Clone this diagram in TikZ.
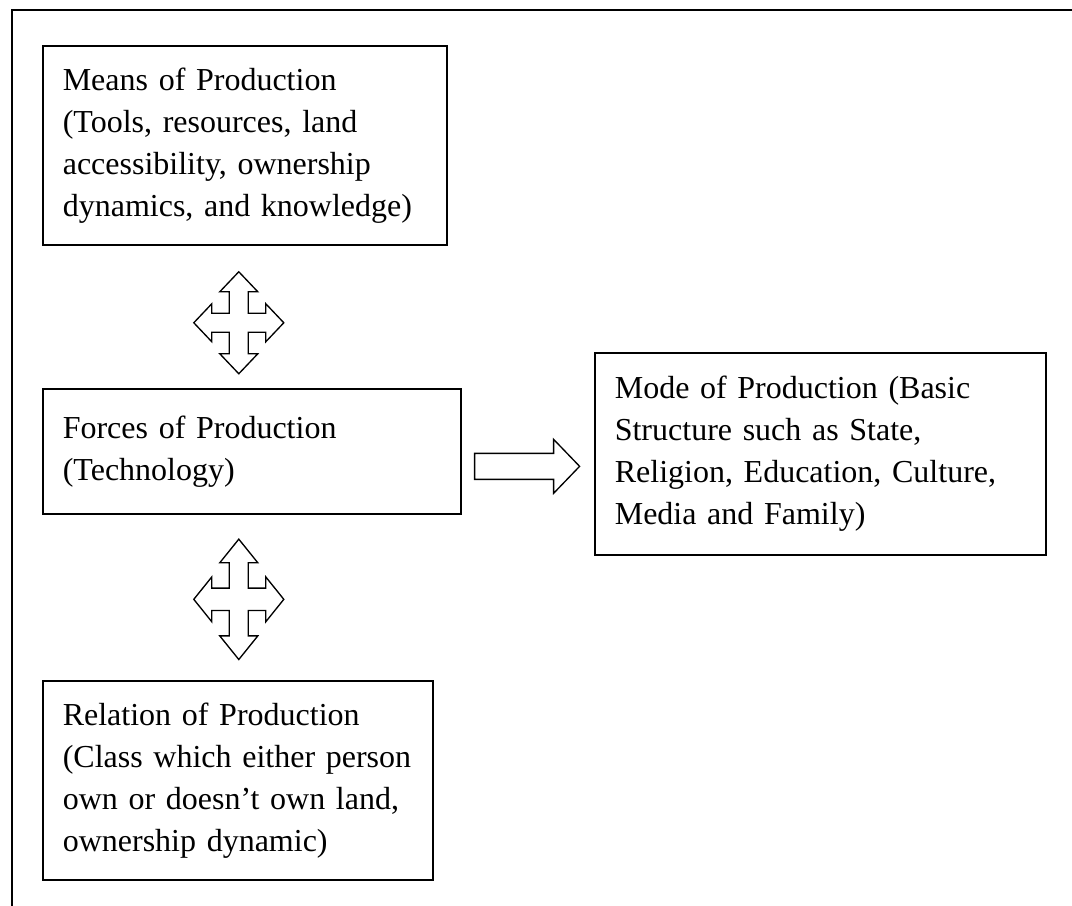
\documentclass[tikz,border=0pt]{standalone}
\usepackage{fontspec}
\setmainfont{Liberation Serif}
\usetikzlibrary{positioning, calc}

% four-way block arrow, drawn round a centre, stretched in y
\newcommand{\QuadArrow}[2]{%
  \draw[blockarrow, shift={(#1)}, yscale=#2]
    (0,-51) -- (19,-31) -- (9.5,-31) -- (9.5,-9.5) -- (27,-9.5) -- (27,-19) -- (45,0)
    -- (27,19) -- (27,9.5) -- (9.5,9.5) -- (9.5,31) -- (19,31) -- (0,51)
    -- (-19,31) -- (-9.5,31) -- (-9.5,9.5) -- (-27,9.5) -- (-27,19) -- (-45,0)
    -- (-27,-19) -- (-27,-9.5) -- (-9.5,-9.5) -- (-9.5,-31) -- (-19,-31) -- cycle;}

\begin{document}
\begin{tikzpicture}[x=0.375pt, y=-0.375pt,
        box/.style={draw, line width=0.6pt, align=left, anchor=north west, font=\fontsize{12}{15.75}\selectfont, inner xsep=7.5pt, inner ysep=0pt},
        blockarrow/.style={draw, line width=0.5pt, fill=white, line join=miter}
    ]
    \useasboundingbox (0,0) rectangle (1072,906);

    % Frame (only left and top edges show)
    \draw[line width=0.6pt] (12,906) -- (12,10) -- (1072,10);

    % Left column
    \node[box, text width=136.5pt, minimum height=74.6pt] at (42,45) (means) {Means of Production\\(Tools, resources, land\\accessibility, ownership\\dynamics, and knowledge)};

    \node[box, text width=141.75pt, minimum height=46.9pt] at (42,388) (forces) {Forces of Production\\(Technology)};

    \node[box, text width=131.25pt, minimum height=74.6pt] at (42,680) (relation) {Relation of Production\\(Class which either person\\own or doesn’t own land,\\ownership dynamic)};

    % Right box
    \node[box, text width=154.1pt, minimum height=75.75pt] at (594,352) (mode) {Mode of Production (Basic\\Structure such as State,\\Religion, Education, Culture,\\Media and Family)};

    % Four-way arrows between the left boxes
    \coordinate (q1) at ($(means.south)!0.5!(means.south |- forces.north)+(-6,6)$);
    \coordinate (q2) at ($(relation.north)!0.5!(relation.north |- forces.south)+(1,2)$);
    \QuadArrow{q1}{1}
    \QuadArrow{q2}{1.18}

    % Arrow to the right box
    \coordinate (rstart) at ($(forces.east)+(13,15)$);
    \draw[blockarrow] (rstart) ++(0,-13) -- ++(79,0) -- ++(0,-14) -- ++(26,27)
        -- ++(-26,27) -- ++(0,-14) -- ++(-79,0) -- cycle;

\end{tikzpicture}
\end{document}
